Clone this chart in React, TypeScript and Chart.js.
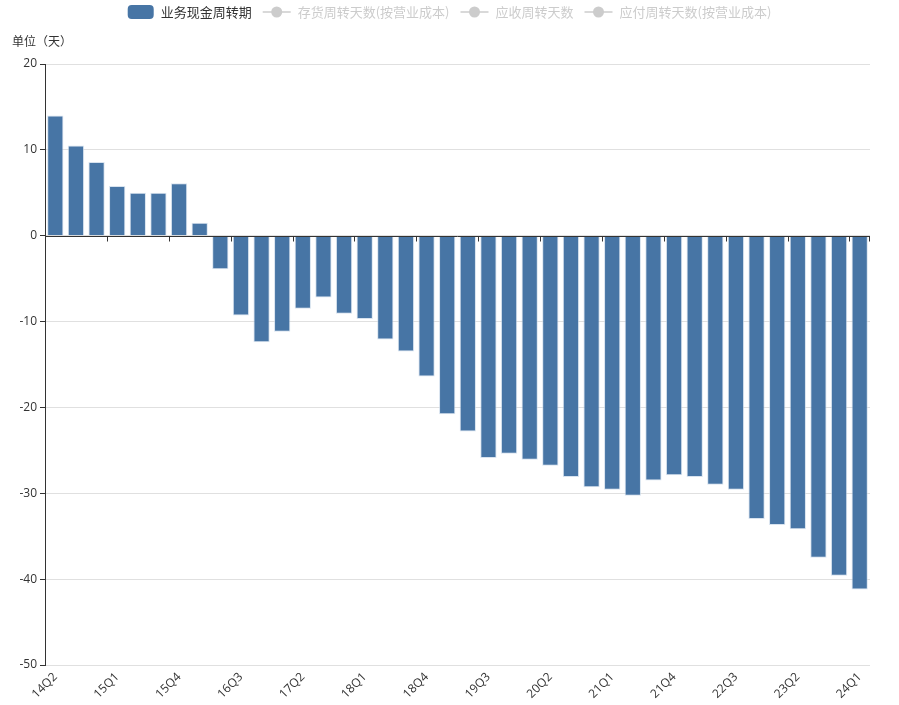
import React, { useEffect, useRef } from 'react';
import { Chart, registerables } from 'chart.js';

Chart.register(...registerables);

const FONT = "'Open Sans', 'Noto Sans CJK SC', sans-serif";
const CJK_FONT = "'Noto Sans CJK SC', 'Noto Sans', sans-serif";

// quarters on the category axis
const quarters = [
  '14Q2', '14Q3', '14Q4',
  '15Q1', '15Q2', '15Q3', '15Q4',
  '16Q1', '16Q2', '16Q3', '16Q4',
  '17Q1', '17Q2', '17Q3', '17Q4',
  '18Q1', '18Q2', '18Q3', '18Q4',
  '19Q1', '19Q2', '19Q3', '19Q4',
  '20Q1', '20Q2', '20Q3', '20Q4',
  '21Q1', '21Q2', '21Q3', '21Q4',
  '22Q1', '22Q2', '22Q3', '22Q4',
  '23Q1', '23Q2', '23Q3', '23Q4',
  '24Q1',
];

// 业务现金周转期 (days)
const cashCycleDays = [
  14.0, 10.5, 8.6,
  5.8, 5.0, 5.0, 6.1,
  1.5, -3.9, -9.3, -12.4,
  -11.2, -8.5, -7.2, -9.1,
  -9.7, -12.1, -13.5, -16.4,
  -20.8, -22.8, -25.9, -25.4,
  -26.1, -26.8, -28.1, -29.3,
  -29.6, -30.3, -28.5, -27.9,
  -28.1, -29.0, -29.6, -33.0,
  -33.7, -34.2, -37.5, -39.6,
  -41.2,
];

// series shown only in the legend (switched off)
const hiddenSeries = ['存货周转天数(按营业成本)', '应收周转天数', '应付周转天数(按营业成本)'];

const yMin = -50;
const yMax = 20;
const yStep = 10;
const labelEvery = 3;

const BAR_COLOR = '#4775a5';
const OFF_COLOR = '#cccccc';
const TEXT_COLOR = '#333333';

// legend drawn echarts-style: box for bars, line+dot for line series
const legendPlugin = {
  id: 'topLegend',
  afterDraw(chart: any) {
    const ctx = chart.ctx;
    const sets = chart.data.datasets;
    const iconH = 14;
    const gap = 7;
    const itemGap = 11;
    ctx.save();
    ctx.font = `13px ${CJK_FONT}`;
    ctx.textBaseline = 'middle';
    ctx.textAlign = 'left';
    const iconW = (d: any) => (d.type === 'line' ? 28 : 26);
    const widths = sets.map((d: any) => iconW(d) + gap + ctx.measureText(d.label).width);
    const total = widths.reduce((a: number, b: number) => a + b, 0) + itemGap * (sets.length - 1);
    let x = (chart.width - total) / 2;
    const cy = 12;
    sets.forEach((d: any, i: number) => {
      const on = !d.legendOff;
      const w = iconW(d);
      if (d.type === 'line') {
        ctx.strokeStyle = OFF_COLOR;
        ctx.lineWidth = 1.5;
        ctx.beginPath();
        ctx.moveTo(x, cy);
        ctx.lineTo(x + w, cy);
        ctx.stroke();
        ctx.fillStyle = OFF_COLOR;
        ctx.beginPath();
        ctx.arc(x + w / 2, cy, 5.5, 0, Math.PI * 2);
        ctx.fill();
      } else {
        ctx.fillStyle = on ? BAR_COLOR : OFF_COLOR;
        ctx.beginPath();
        ctx.roundRect(x, cy - iconH / 2, w, iconH, 4);
        ctx.fill();
      }
      ctx.fillStyle = on ? TEXT_COLOR : OFF_COLOR;
      ctx.fillText(d.label, x + w + gap, cy);
      x += widths[i] + itemGap;
    });
    ctx.restore();
  },
};

// y axis name above the axis
const axisNamePlugin = {
  id: 'axisName',
  afterDraw(chart: any) {
    const ctx = chart.ctx;
    ctx.save();
    ctx.font = `12px ${CJK_FONT}`;
    ctx.fillStyle = TEXT_COLOR;
    ctx.textBaseline = 'middle';
    ctx.textAlign = 'left';
    ctx.fillText('单位（天）', 12, 41);
    ctx.restore();
  },
};

// category axis line sitting on zero, ticks between categories
const zeroAxisPlugin = {
  id: 'zeroAxis',
  afterDatasetsDraw(chart: any) {
    const { ctx, chartArea, scales } = chart;
    const y0 = Math.round(scales.y.getPixelForValue(0)) + 0.5;
    const n = chart.data.labels.length;
    const step = (chartArea.right - chartArea.left) / n;
    ctx.save();
    ctx.strokeStyle = TEXT_COLOR;
    ctx.lineWidth = 1;
    ctx.beginPath();
    ctx.moveTo(chartArea.left, y0);
    ctx.lineTo(chartArea.right, y0);
    for (let i = labelEvery; i <= n; i += labelEvery) {
      const x = Math.round(chartArea.left + i * step) + 0.5;
      ctx.moveTo(x, y0);
      ctx.lineTo(x, y0 + 5);
    }
    const xe = Math.round(chartArea.right) - 0.5;
    ctx.moveTo(xe, y0);
    ctx.lineTo(xe, y0 + 5);
    ctx.stroke();
    ctx.restore();
  },
};

const CashCycleChart = () => {
  const chartRef = useRef<HTMLCanvasElement>(null);
  const chartInstanceRef = useRef<Chart>();

  useEffect(() => {
    if (!chartRef.current) return;
    const ctx = chartRef.current.getContext('2d');
    if (!ctx) return;
    if (chartInstanceRef.current) chartInstanceRef.current.destroy();

    chartInstanceRef.current = new Chart(ctx, {
      type: 'bar',
      data: {
        labels: quarters,
        datasets: [
          {
            label: '业务现金周转期',
            data: cashCycleDays,
            backgroundColor: BAR_COLOR,
            borderColor: 'rgba(200, 215, 232, 0.7)',
            borderWidth: 1,
            barPercentage: 0.79,
            categoryPercentage: 1,
          },
          ...hiddenSeries.map((name) => ({
            type: 'line' as const,
            label: name,
            data: [],
            hidden: true,
            legendOff: true,
          })),
        ] as any,
      },
      options: {
        animation: false,
        responsive: true,
        maintainAspectRatio: false,
        layout: { padding: { left: 0, right: 29, top: 64, bottom: 0 } },
        plugins: {
          legend: { display: false },
          tooltip: { enabled: false },
        },
        scales: {
          x: {
            grid: { display: false, drawTicks: false },
            border: { display: false },
            ticks: {
              autoSkip: false,
              maxRotation: 45,
              minRotation: 45,
              padding: 5,
              color: TEXT_COLOR,
              font: { family: FONT, size: 12 },
              callback: (_v: any, i: number) => (i % labelEvery === 0 ? quarters[i] : ''),
            },
            afterFit: (scale: any) => {
              scale.height = 40;
            },
          },
          y: {
            min: yMin,
            max: yMax,
            ticks: {
              stepSize: yStep,
              padding: 3,
              color: TEXT_COLOR,
              font: { family: FONT, size: 12 },
            },
            grid: { color: '#e0e0e0', tickColor: TEXT_COLOR, tickLength: 5 },
            border: { display: true, color: TEXT_COLOR, width: 1 },
            afterFit: (scale: any) => {
              scale.width = 45;
            },
          },
        },
      },
      plugins: [legendPlugin, axisNamePlugin, zeroAxisPlugin],
    });

    return () => {
      if (chartInstanceRef.current) {
        chartInstanceRef.current.destroy();
        chartInstanceRef.current = undefined;
      }
    };
  }, []);

  return (
    <div style={{ position: 'absolute', left: 0, top: 0, width: 899, height: 705 }}>
      <canvas ref={chartRef} />
    </div>
  );
};

export default function App() {
  return <CashCycleChart />;
}
